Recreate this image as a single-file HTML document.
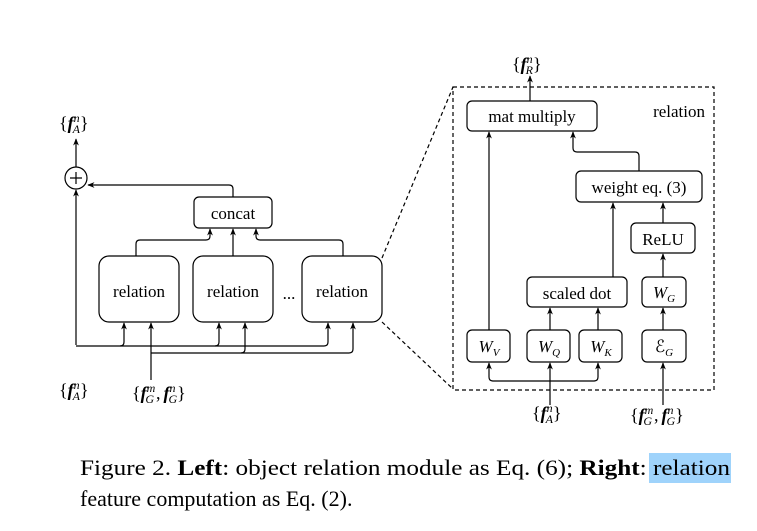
<!DOCTYPE html><html><head><style>body{margin:0;background:#fff}svg{display:block}</style></head><body>
<svg width="757" height="531" viewBox="0 0 757 531" xmlns="http://www.w3.org/2000/svg" font-family="Liberation Serif, serif">
<defs><marker id="a" viewBox="0 0 10 10" refX="9" refY="5" markerWidth="6" markerHeight="6" orient="auto"><path d="M0,1 L10,5 L0,9 L3,5z" fill="#000"/></marker></defs>
<g fill="none" stroke="#000" stroke-width="1.2">
<circle cx="76" cy="178" r="11"/><path d="M70,178h12M76,172v12"/>
<path d="M76,167V139" marker-end="url(#a)"/>
<path d="M76,345V190" marker-end="url(#a)"/>
<rect x="194" y="197" width="78" height="31" rx="5"/>
<path d="M233,197V189q0,-4 -4,-4H88" marker-end="url(#a)"/>
<rect x="99" y="256" width="80" height="66" rx="10"/>
<rect x="193" y="256" width="80" height="66" rx="10"/>
<rect x="302" y="256" width="80" height="66" rx="10"/>
<path d="M136,256V244q0,-4 4,-4H206q4,0 4,-4V229" marker-end="url(#a)"/>
<path d="M233,256V229" marker-end="url(#a)"/>
<path d="M343,256V244q0,-4 -4,-4H260q-4,0 -4,-4V229" marker-end="url(#a)"/>
<path d="M76,346H120q4,0 4,-4V323" marker-end="url(#a)"/>
<path d="M120,346H215q4,0 4,-4V323" marker-end="url(#a)"/>
<path d="M215,346H324q4,0 4,-4V323" marker-end="url(#a)"/>
<path d="M151,380V323" marker-end="url(#a)"/>
<path d="M151,353H241q4,0 4,-4V323" marker-end="url(#a)"/>
<path d="M241,353H349q4,0 4,-4V323" marker-end="url(#a)"/>
<path d="M382,258L453,87M382,322L453,389" stroke-dasharray="4,3"/>
<rect x="453" y="87" width="261" height="303" stroke-dasharray="4,3"/>
<rect x="467" y="101" width="130" height="30" rx="5"/>
<path d="M530,101V76" marker-end="url(#a)"/>
<rect x="467" y="330" width="43" height="32" rx="5"/>
<rect x="527" y="330" width="43" height="32" rx="5"/>
<rect x="579" y="330" width="43" height="32" rx="5"/>
<rect x="642" y="330" width="44" height="32" rx="5"/>
<rect x="527" y="277" width="100" height="30" rx="5"/>
<rect x="642" y="277" width="44" height="30" rx="5"/>
<rect x="631" y="223" width="64" height="30" rx="5"/>
<rect x="576" y="171" width="126" height="31" rx="5"/>
<path d="M489,330V132" marker-end="url(#a)"/>
<path d="M613,277V203" marker-end="url(#a)"/>
<path d="M663,223V203" marker-end="url(#a)"/>
<path d="M663,277V254" marker-end="url(#a)"/>
<path d="M663,330V308" marker-end="url(#a)"/>
<path d="M550,330V308" marker-end="url(#a)"/>
<path d="M598,330V308" marker-end="url(#a)"/>
<path d="M639,171V156q0,-4 -4,-4H577q-4,0 -4,-4V132" marker-end="url(#a)"/>
<path d="M550,405V363" marker-end="url(#a)"/>
<path d="M550,381H493q-4,0 -4,-4V363" marker-end="url(#a)"/>
<path d="M550,381H594q4,0 4,-4V363" marker-end="url(#a)"/>
<path d="M663,405V363" marker-end="url(#a)"/>
</g>
<g font-size="17" text-anchor="middle" fill="#000">
<text x="233" y="219">concat</text>
<text x="139" y="297">relation</text><text x="233" y="297">relation</text><text x="342" y="297">relation</text>
<text x="289" y="299">...</text>
<text x="532" y="122">mat multiply</text>
<text x="705" y="117" text-anchor="end">relation</text>
<text x="639" y="193">weight eq. (3)</text>
<text x="663" y="245">ReLU</text>
<text x="577" y="299">scaled dot</text>
<text x="664" y="298" font-style="italic">W<tspan font-size="11" dy="4">G</tspan></text>
<text x="489" y="352" font-style="italic">W<tspan font-size="11" dy="4">V</tspan></text>
<text x="549" y="352" font-style="italic">W<tspan font-size="11" dy="4">Q</tspan></text>
<text x="601" y="352" font-style="italic">W<tspan font-size="11" dy="4">K</tspan></text>
<text x="664" y="352">ℰ<tspan font-size="11" dy="4" font-style="italic">G</tspan></text>
</g>
<g font-size="18" fill="#000">
<text x="59" y="129">{<tspan font-weight="bold" font-style="italic">f</tspan><tspan font-size="12" font-style="italic" dy="-7">n</tspan><tspan font-size="12" font-style="italic" dx="-7" dy="11">A</tspan><tspan dy="-4">}</tspan></text>
<text x="59" y="396">{<tspan font-weight="bold" font-style="italic">f</tspan><tspan font-size="12" font-style="italic" dy="-7">n</tspan><tspan font-size="12" font-style="italic" dx="-7" dy="11">A</tspan><tspan dy="-4">}</tspan></text>
<text x="512" y="70">{<tspan font-weight="bold" font-style="italic">f</tspan><tspan font-size="12" font-style="italic" dy="-7">n</tspan><tspan font-size="12" font-style="italic" dx="-7" dy="11">R</tspan><tspan dy="-4">}</tspan></text>
<text x="532" y="419">{<tspan font-weight="bold" font-style="italic">f</tspan><tspan font-size="12" font-style="italic" dy="-7">n</tspan><tspan font-size="12" font-style="italic" dx="-7" dy="11">A</tspan><tspan dy="-4">}</tspan></text>
<text x="132" y="399">{<tspan font-weight="bold" font-style="italic">f</tspan><tspan font-size="12" font-style="italic" dy="-7">m</tspan><tspan font-size="12" font-style="italic" dx="-10" dy="11">G</tspan><tspan dy="-4" dx="2">,</tspan><tspan font-weight="bold" font-style="italic" dx="3">f</tspan><tspan font-size="12" font-style="italic" dy="-7">n</tspan><tspan font-size="12" font-style="italic" dx="-7" dy="11">G</tspan><tspan dy="-4">}</tspan></text>
<text x="630" y="421">{<tspan font-weight="bold" font-style="italic">f</tspan><tspan font-size="12" font-style="italic" dy="-7">m</tspan><tspan font-size="12" font-style="italic" dx="-10" dy="11">G</tspan><tspan dy="-4" dx="2">,</tspan><tspan font-weight="bold" font-style="italic" dx="3">f</tspan><tspan font-size="12" font-style="italic" dy="-7">n</tspan><tspan font-size="12" font-style="italic" dx="-7" dy="11">G</tspan><tspan dy="-4">}</tspan></text>
</g>
<rect x="649" y="453" width="82" height="30" fill="#9fd3fb"/>
<g font-size="22" fill="#000">
<text x="80" y="475" textLength="650" lengthAdjust="spacingAndGlyphs">Figure 2. <tspan font-weight="bold">Left</tspan>: object relation module as Eq. (6); <tspan font-weight="bold">Right</tspan>: relation</text>
<text x="80" y="506">feature computation as Eq. (2).</text>
</g>
</svg>
</body></html>
